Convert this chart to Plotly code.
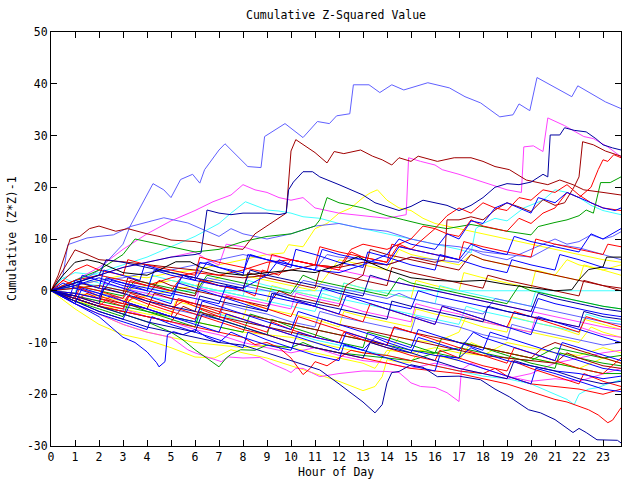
import plotly.graph_objects as go

# ---- colours (gnuplot-like palette) ----
RED = "#ff0000"; DARKRED = "#a00000"; GREEN = "#00a000"; BLUE = "#0000ff"
NAVY = "#0000a0"; LBLUE = "#6060ff"; MAGENTA = "#ff40ff"; CYAN = "#40ffff"
YELLOW = "#ffff00"; BLACK = "#000000"

x_ticks = list(range(0, 24))
y_ticks = [-30, -20, -10, 0, 10, 20, 30, 40, 50]

# ---- series: (hour, cumulative value) ----
lblue_1 = [(0,0),(1,1),(2,4),(3,9),(3.3,12.5),(4.25,20.7),(4.7,19.5),(5.0,18),(5.4,21.5),(5.9,22.5),(6.2,20.8),(6.4,23.4),(7,27.2),(7.25,28.4),(8.2,24),(8.75,23.8),(8.9,29.8),(9.75,32.3),(10.5,29.6),(11.1,32.7),(11.6,32.3),(11.9,33.8),(12.45,34.2),(12.6,39.8),(13.25,39.8),(13.7,38.3),(14.2,39.8),(14.7,38.8),(15.7,40.2),(16.6,39.2),(17.25,37.5),(17.9,36.3),(18.7,33.6),(19.25,34),(19.5,36.1),(19.95,34.8),(20.25,41.2),(21.7,37.5),(21.95,39.6),(23.1,36.5),(23.75,35.2)]
lblue_2 = [(0,0),(0.5,3),(0.7,8.9),(1.5,10.2),(2,10.5),(2.6,10.8),(3.3,12.4),(4,13.3),(4.7,14.1),(5.1,13.7),(5.7,13.1),(6.5,11.5),(7,10.5),(7.5,12),(8,11),(9,10),(10,11),(11,12.5),(12,13),(13,12),(14,11.5),(15,10),(16,9),(17,8.5),(18,7.5),(19,7),(20,6.5),(21,9),(22,8.3),(23,7),(23.75,6)]
lblue_3 = [(0,0),(1,0.5),(2,-0.5),(3,-1.5),(3.5,1.5),(4,1),(5,0),(6,-1),(6.5,2.5),(7,2),(8,1),(9,0),(10,-1),(10.5,2),(11,1.5),(12,0.5),(13,-0.5),(14,-1.5),(14.5,-0.5),(15,-1.5),(16,-2.5),(17,-3.5),(18,-4.5),(18.5,-1.5),(19,-2),(20,-3),(21,-4),(22,-5),(23,-6),(23.75,-6.5)]
lblue_4 = [(0,0),(1,1),(2,2),(3,2.5),(4,3.5),(5,4),(6,5),(7,6),(8,7),(9,6),(10,5),(11,4),(11.5,7),(12,6.5),(13,6),(14,5),(15,6.5),(16,6),(17,5.5),(17.5,8),(18,7),(19,6),(20,8),(21,10),(21.5,9),(22,9.5),(22.5,10.8),(23,10),(23.4,10.5),(23.75,11.4)]
lblue_5 = [(0,0),(1,-1.5),(2,-3),(3,-4),(3.2,-1),(4,-2),(5,-3.5),(6,-4.5),(7,-5.5),(7.2,-2.5),(8,-3.5),(9,-4.5),(10,-6),(11,-7),(11.2,-4),(12,-5),(13,-6),(14,-7),(15,-8),(15.2,-5),(16,-6),(17,-7),(18,-8.5),(19,-9.5),(19.2,-6.5),(20,-7.5),(21,-8.5),(22,-9.5),(23,-10.5),(23.75,-10)]

darkred_1 = [(0,0),(0.3,3),(0.8,10),(1.2,10.5),(1.6,12),(2,12.5),(2.7,11.5),(3.2,12),(4,11),(4.5,10.5),(5,9.8),(6,9.5),(7,8.5),(8,8),(8.5,11),(9,12.5),(9.5,14),(9.8,15),(10,27),(10.2,29.2),(11,26.7),(11.5,24.7),(11.8,26.9),(12.2,26.5),(12.9,27.2),(13.4,26),(13.8,25.3),(14.2,24.3),(14.5,25.7),(15,25),(15.3,26),(15.7,25.5),(16.1,25),(16.8,25.7),(17.5,25.7),(18,25),(18.5,24),(19.1,23.4),(19.8,21.4),(20.7,20.5),(21.2,21.4),(21.75,20.5),(22.2,19.5),(23,19),(23.75,18.5)]
darkred_2 = [(0,0),(0.5,4),(1,7.9),(1.5,7),(2,6),(3,5.6),(4,5),(5,4.5),(6,4),(7,3),(8,2.5),(9,3),(10,4),(11,5),(12,4.5),(13,5.5),(14,5),(15,6.5),(16,5.5),(16.4,6),(16.5,13.7),(17,13.7),(17.5,14.3),(18,13.7),(18.5,15.6),(19,17),(19.5,16.2),(20,15.3),(20.5,17.6),(21,16.5),(21.4,17),(21.8,20.1),(22,22),(22.15,28.8),(22.6,28.2),(23.1,27),(23.75,26)]
darkred_3 = [(0,0),(1,-1.5),(2,-3),(3,-4),(4,-5),(5,-6),(5.5,-3),(6,-4),(7,-5),(8,-6),(9,-7),(10,-8),(11,-9),(11.3,-5.5),(12,-6.5),(13,-7.5),(14,-8.5),(15,-9.5),(16,-10.5),(17,-11.5),(18,-12.5),(19,-13),(20,-13.5),(21,-14),(21.5,-12),(22,-13),(23,-14.5),(23.75,-15)]
darkred_4 = [(0,0),(1,0.5),(2,1),(3,0),(4,-1),(4.5,2),(5,1),(6,0),(7,-1),(8,-2),(9,-3),(9.5,0),(10,-1),(11,-2),(12,-3),(12.3,1),(13,3),(13.3,8),(14,7),(15,6),(16,5),(17,4),(17.5,7),(18,6),(19,5),(20,4),(21,3),(22,2),(23,1),(23.75,0)]
darkred_5 = [(0,0),(1,-0.5),(2,-1.5),(3,-2.5),(4,-3.5),(4.3,-0.5),(5,-1.5),(6,-2.5),(7,-3.5),(8,-4.5),(9,-5.5),(10,-6.5),(11,-7.5),(12,-8.5),(13,-9.5),(14,-10.5),(14.3,-7),(15,-8),(16,-9),(17,-10),(18,-11),(19,-12),(20,-13),(20.5,-11),(21,-10),(22,-11.5),(23,-13),(23.75,-14)]
darkred_6 = [(0,0),(1,-1),(1.2,1.5),(2,0.5),(3,-0.5),(3.2,2.5),(4,1.5),(5,0),(6,-1),(6.2,2),(7,1),(8,0),(8.2,3.5),(9,2.5),(10,1.5),(11,0.5),(11.2,4),(12,3),(13,2),(14,1),(14.2,4.5),(15,3.5),(16,2.5),(17,1.5),(18,0.5),(18.2,3),(19,2),(20,1),(21,0),(22,-1),(22.2,2),(23,1),(23.75,0.5)]

magenta_1 = [(0,0),(1,2),(2,4.5),(3,8),(4,11),(5,13.5),(6,15.5),(6.75,17.2),(7.5,18.5),(8,20.5),(8.5,19.5),(9,19),(9.5,18),(10,17.5),(10.5,18),(11,16),(12,15),(13,14.5),(14,14),(14.8,14.7),(14.9,25.7),(15.4,25),(16,24.3),(16.3,23.4),(17,22.5),(18,21),(19,19.5),(19.6,19),(19.7,27.8),(20.1,28),(20.5,26.9),(20.7,33.4),(21.4,31.9),(22.2,29.8),(22.6,29.4),(23.2,27.8),(23.75,25.9)]
magenta_2 = [(0,0),(1,-2.5),(2,-4.5),(3,-6.5),(4,-8),(5,-9),(5.7,-11.4),(6,-12),(6.5,-12.8),(7.1,-13.7),(7.4,-12.8),(8,-13),(8.7,-12.9),(9.3,-14.3),(9.8,-15.3),(10,-15.8),(10.2,-15),(10.5,-15),(11.2,-16.6),(12,-16),(13,-15.5),(14,-15.6),(14.5,-15.8),(15,-17.8),(15.4,-18.5),(16,-18.7),(16.5,-19.7),(17,-21.4),(17.1,-15.3),(17.5,-14),(18,-15),(19,-16.5),(20,-17.5),(21,-17),(22,-17.5),(23,-16),(23.75,-15)]
magenta_3 = [(0,0),(1,1.5),(2,3),(3,4.5),(4,5.5),(5,6.5),(6,7.5),(6.5,6),(7,5),(7.3,9),(8,8.5),(9,7),(10,6),(11,5),(12,4),(13,3),(14,2),(15,1),(16,0),(17,-1),(18,-2),(19,-3),(20,-4),(21,-5),(22,-6),(23,-7),(23.75,-7.5)]
magenta_4 = [(0,0),(1,-1),(2,-2.5),(3,-3.5),(4,-5),(5,-6),(6,-7.5),(7,-8.5),(8,-10),(9,-11),(10,-12),(11,-11),(12,-12.5),(13,-13.5),(14,-14),(15,-15),(16,-14),(17,-15),(18,-16),(19,-17),(20,-16),(21,-14),(22,-13),(23,-12),(23.75,-11.5)]
magenta_5 = [(0,0),(1,-1),(2,-2),(2.2,1.5),(3,0.5),(4,-0.5),(5,-1.5),(6,-2.5),(6.2,0.5),(7,-0.5),(8,-1.5),(9,-2.5),(10,-3.5),(10.2,-0.5),(11,-1.5),(12,-2.5),(13,-4),(14,-5),(15,-6),(15.2,-2.5),(16,-3.5),(17,-4.5),(18,-6),(19,-7),(20,-8),(20.2,-5),(21,-6),(22,-7),(23,-8.5),(23.75,-9)]

navy_1 = [(0,0),(1,1.5),(2,3),(3,4.5),(4,5.5),(5,6.5),(6,7),(6.25,7.3),(6.5,15.6),(7,15),(7.5,14.7),(8,15),(9,15),(9.5,14.7),(9.8,15),(9.9,19.5),(10.1,21),(10.5,23),(10.9,23),(11.2,22),(12,20.5),(12.5,19.5),(13,18.5),(13.5,17),(14,16.3),(14.5,15.5),(15,16.3),(15.5,17.5),(16,17),(16.5,16.5),(17,15.5),(17.5,16.5),(18,18),(18.5,20),(19,20.7),(19.5,20.5),(20,21),(20.5,22.5),(20.7,22),(20.8,30.1),(21.2,30.1),(21.4,31.5),(21.8,31),(22.3,30.7),(22.7,29.4),(23,28.2),(23.4,27.6),(23.75,27.2)]
navy_2 = [(0,0),(1,-2),(2,-4),(3,-5.5),(4,-7),(5,-8),(6,-9),(7,-10),(8,-10.5),(9,-12),(10,-13.5),(11.2,-15.3),(12,-18),(13,-21.5),(13.5,-23.6),(13.8,-22),(14,-17.8),(14.2,-15.8),(14.5,-15.6),(15,-14.3),(15.5,-14.8),(16.1,-16.6),(17,-16.5),(17.9,-17.2),(18.5,-19),(19.1,-20.5),(19.9,-23),(20.4,-23.6),(21,-24.9),(21.5,-26.5),(21.75,-27.4),(22,-26.6),(22.3,-27.4),(22.75,-28.8),(23.1,-28.8),(23.6,-28.9),(23.75,-29.4)]
navy_3 = [(0,0),(1,1.5),(2,3),(2.3,6),(3,5.5),(4,4.5),(5,3.5),(6,2.5),(7,1.5),(8,0.5),(8.3,4),(9,3),(10,2),(11,1),(12,0),(13,-1),(13.3,3),(14,2),(15,1),(16,0),(17,-1),(18,-2),(19,-3),(20,-4),(20.3,-0.5),(21,-1.5),(22,-2.5),(23,-3.5),(23.75,-4)]
navy_4 = [(0,0),(1,-1.5),(2,-3),(3,-4.5),(4,-6),(5,-7),(6,-8),(6.3,-4.5),(7,-5.5),(8,-7),(9,-8.5),(10,-10),(11,-11),(12,-12),(13,-13),(13.3,-10),(14,-11),(15,-12),(16,-13.5),(17,-15),(18,-16),(19,-17),(19.3,-13.5),(20,-14.5),(21,-15.5),(22,-17),(23,-18),(23.75,-17.5)]
navy_5 = [(0,0),(1,-1),(2,-2.5),(2.2,0.5),(3,-0.5),(4,-2),(5,-3),(6,-4),(6.2,-1),(7,-2),(8,-3),(9,-4),(9.2,-0.5),(10,-1.5),(11,-2.5),(12,-3.5),(13,-4.5),(14,-5.5),(14.2,-2),(15,-3),(16,-4),(17,-5),(18,-6),(18.2,-3),(19,-4),(20,-5),(21,-6),(22,-7),(22.2,-4),(23,-5),(23.75,-5.5)]

green_1 = [(0,0),(1,2),(2,4),(3,7),(3.5,10),(4,9.5),(5,8.5),(6,7.5),(7,8),(8,9.5),(9,10.5),(10,11),(11,12.5),(11.2,13.7),(11.5,18),(12,17),(13,16),(14,14.5),(14.7,13.7),(15.5,12.8),(16.5,12),(17.5,12.8),(18,12.4),(19,11.5),(20,10.8),(20.3,12.4),(21,13.2),(21.5,13.7),(22,14.5),(22.3,15.6),(22.6,15),(22.9,20.9),(23.3,20.9),(23.75,22)]
green_2 = [(0,0),(1,-1.5),(2,-3),(3,-4.5),(4,-6),(5,-8),(5.5,-9.5),(6,-11.4),(6.6,-13.3),(7,-14.7),(7.3,-13),(7.5,-12.3),(7.9,-11.4),(8.5,-11.5),(9,-10.5),(10,-11),(10.5,-10),(11,-11),(12,-12),(13,-12.5),(14,-13),(15,-13.5),(16,-12),(17,-11),(18,-12),(19,-13),(20,-13.5),(21,-11),(22,-12),(23,-13),(23.75,-12.5)]
green_3 = [(0,0),(1,1),(2,0),(3,-1),(3.5,2),(4,1.5),(5,0.5),(6,-0.5),(6.5,3),(7,2.5),(8,1.5),(9,0.5),(10,-0.5),(10.5,3),(11,2),(12,1),(13,0),(14,-1),(14.5,2.5),(15,1.5),(16,0.5),(17,-0.5),(18,-1.5),(19,-2.5),(19.5,1),(20,0),(21,-1),(22,-2),(23,-3),(23.75,-3.5)]
green_4 = [(0,0),(1,-1),(2,-2),(3,-3),(4,-4),(5,-5),(6,-6),(7,-7),(8,-8),(8.3,-4.5),(9,-5.5),(10,-6.5),(11,-7.5),(12,-8.5),(13,-9.5),(14,-10.5),(15,-11.5),(16,-12),(16.3,-9),(17,-10),(18,-11),(19,-12),(20,-13),(21,-14),(22,-15),(23,-16),(23.75,-16)]
green_5 = [(0,0),(1,-2),(2,-3.5),(3,-5),(3.2,-2.5),(4,-4),(5,-5.5),(6,-7),(6.2,-4),(7,-5.5),(8,-7),(9,-8.5),(9.2,-5.5),(10,-7),(11,-8.5),(12,-10),(13,-11),(13.2,-8),(14,-9),(15,-10.5),(16,-12),(17,-13),(17.2,-10),(18,-11),(19,-12.5),(20,-14),(21,-15),(21.2,-12),(22,-13),(23,-14),(23.75,-14.5)]

cyan_1 = [(0,0),(1,2),(2,3.5),(3,5),(4,6.5),(5,8.5),(6,10.5),(7,13),(7.5,15),(8.1,17.2),(9,15.6),(9.5,15.4),(10,15),(10.5,14.3),(11.2,14),(12,13),(13,12),(14,11),(15,10),(16,9),(17,8),(17.5,7.3),(17.7,12),(18,13),(18.5,14),(19,13.5),(19.7,16),(20.5,17.5),(21,19.5),(21.5,19),(22,18),(22.5,16.5),(23,15.5),(23.75,14.7)]
cyan_2 = [(0,0),(0.5,2.5),(1,1.5),(2,1),(3,0),(4,-1),(5,-2),(5.3,2),(6,1),(7,0),(8,-1),(9,-2),(10,-3),(11,-4),(11.3,-0.5),(12,-1.5),(13,-2.5),(14,-3.5),(15,-4.5),(16,-5.5),(17,-6.5),(17.3,-3),(18,-4),(19,-5),(20,-6),(21,-7),(22,-8),(22.3,-4.5),(23,-5.5),(23.75,-6)]
cyan_3 = [(0,0),(0.3,2),(1,3.5),(2,3),(3,2),(4,1),(4.5,0),(23.75,0)]
cyan_4 = [(0,0),(1,-1.5),(2,-3),(3,-4),(4,-5),(5,-6),(6,-7),(6.3,-3.5),(7,-4.5),(8,-6),(9,-7),(10,-8),(11,-9.5),(12,-10.5),(13,-11.5),(14,-12.5),(15,-13.5),(16,-14.5),(17,-15.5),(18,-16.5),(19,-17),(20,-18),(20.5,-19),(21,-20),(21.5,-21),(21.8,-22),(22,-20),(22.4,-19),(22.8,-18.7),(23.2,-18),(23.75,-17.2)]
cyan_5 = [(0,0),(1,-0.5),(1.2,2.5),(2,1.5),(3,0.5),(4,-0.5),(4.2,3),(5,2),(6,1),(7,0),(8,-1),(8.2,2),(9,1),(10,0),(11,-1),(12,-2),(12.2,1.5),(13,0.5),(14,-0.5),(15,-1.5),(16,-2.5),(16.2,1),(17,0),(18,-1),(19,-2),(20,-3),(20.2,0),(21,-1),(22,-2),(23,-3),(23.75,-3.5)]

black_1 = [(0,0),(0.5,3),(1,5.5),(1.5,6),(2,5.5),(2.5,4.5),(3,3.5),(4,3),(4.5,4),(5.2,5.6),(5.8,5.6),(6.2,4.6),(7,3.5),(8,3),(9,3.5),(10,4),(11,3.5),(12,5),(12.8,6.6),(13.2,5.6),(14,4),(15,2.5),(16,2),(17,1.8),(18,2),(19,1.2),(20,0.6),(21,0),(21.7,0.2),(22,2.1),(22.4,4.1),(23,4.6),(23.15,6.5),(23.75,6.5)]

yellow_1 = [(0,0),(1,-3.5),(2,-6.5),(3,-8.5),(4,-9.5),(5,-11),(6,-12.8),(6.8,-13),(7.5,-11.4),(8,-12),(9,-13),(10,-14.5),(11.2,-16.2),(12,-17.5),(13,-19.3),(13.5,-18.5),(13.8,-16.6),(14,-13.3),(14.5,-13.8),(15,-13.8),(15.4,-11.4),(16,-12.5),(17,-13.5),(17.5,-10),(18,-11),(19,-12),(20,-13),(21,-14),(22,-15),(23,-13),(23.75,-14)]
yellow_2 = [(0,0),(1,-2.5),(2,-4.5),(3,-6.5),(4,-8),(5,-9),(6,-10),(7,-10.5),(8,-11),(9,-10.5),(10,-11),(11,-12),(12,-13),(13,-14),(13.5,-15),(14,-11.5),(15,-12),(16,-11),(17,-12),(18,-12.5),(19,-10),(20,-11),(21,-12),(22,-12.5),(23,-11),(23.75,-12)]
yellow_3 = [(0,0),(1,1),(2,2),(3,3),(4,2.5),(5,3.5),(6,4),(7,5),(8,6),(9,7),(9.7,7.3),(9.9,8.9),(10.5,8.5),(11,12),(11.5,13),(12,15),(12.5,16),(13,18),(13.3,18.9),(13.6,19.5),(14,17.5),(14.5,16),(15,15.5),(15.5,14),(16,13),(17,12),(18,11),(19,10),(20,9),(21,8),(22,7),(23,6),(23.75,5.5)]
yellow_4 = [(0,0),(0.5,-1),(1,-2),(2,-3),(3,-3.5),(4,-4.5),(5,-5),(6,-6),(7,-7),(8,-8),(9,-8.5),(10,-9),(11,-10),(12,-11),(13,-12),(14,-12.5),(14.5,-9),(15,-9.5),(16,-10),(17,-8),(17.3,-5),(18,-6),(19,-7),(20,-8),(21,-9),(22,-10),(22.5,-7),(23,-8),(23.75,-9)]
yellow_5 = [(0,0),(1,-0.5),(2,-1),(3,-2),(4,-1),(5,0),(6,1),(7,2.5),(7.5,4),(8,3),(9,2),(10,1),(11,0),(11.5,3),(12,6),(12.5,5.5),(13,5),(14,4),(14.5,8),(15,7),(16,6),(17,5),(17.5,7),(18,6),(19,5),(20,4),(21,3),(21.5,6),(22,5),(23,4),(23.75,3)]
yellow_6 = [(0,0),(1,-1.5),(2,-3),(2.2,-0.5),(3,-1.5),(4,-3),(5,-4.5),(5.2,-2),(6,-3),(7,-4.5),(8,-5.5),(8.2,-2.5),(9,-3.5),(10,-4.5),(11,-5.5),(12,-7),(12.2,-4),(13,-5),(14,-6),(15,-7),(15.2,-3.5),(16,-4.5),(17,-5.5),(18,-7),(19,-8),(19.2,-5),(20,-6),(21,-7),(22,-8.5),(22.2,-5.5),(23,-6.5),(23.75,-7.5)]
yellow_7 = [(0,0),(1,0.5),(2,1),(3,0),(4,1),(5,2),(6,1),(7,0),(8,-1),(9,-2),(9.2,1),(10,0),(11,-1),(12,-2),(12.2,1.5),(13,0.5),(14,-0.5),(15,-1.5),(15.2,2),(16,1),(17,0),(17.2,3.5),(18,2.5),(19,1.5),(20,0.5),(20.2,4),(21,3),(22,2),(22.2,5),(23,4),(23.75,5)]

blue_1 = [(0,0),(1,-2.5),(2,-5),(2.5,-7),(3,-9),(3.5,-10),(4,-11.8),(4.4,-13.9),(4.5,-14.7),(4.75,-13.7),(4.85,-8.5),(5.1,-7.9),(5.5,-8.5),(6,-7.5),(6.5,-9),(7,-10),(7.5,-8),(8,-9),(9,-10.5),(10,-11.5),(10.3,-8),(11,-9),(12,-10),(13,-11.5),(13.5,-9),(14,-10),(15,-11.5),(16,-12.5),(17,-13),(17.5,-11),(18,-12),(19,-13.5),(20,-14.5),(21,-15.5),(22,-16),(23,-17),(23.75,-16.5)]
blue_2 = [(0,0),(0.5,1.5),(1,0.5),(2,-1),(2.5,2),(3,1.5),(4,0),(4.3,4),(5,3),(6,2),(6.5,5.5),(7,4.5),(8,3.5),(8.3,7),(9,6),(10,5),(11,4),(11.3,8),(12,7),(13,6),(14,5),(14.5,8.5),(15,8),(16,7),(17,6),(17.5,9),(18,8),(19,7),(19.3,10.5),(20,9.5),(21,8.5),(22,7.5),(22.5,11),(23,10),(23.75,12)]
blue_3 = [(0,0),(1,-1),(1.3,3),(2,2),(3,0.5),(4,-1),(5,-2.5),(5.3,1.5),(6,0.5),(7,-1),(8,-2.5),(9,-4),(9.3,-0.5),(10,-1.5),(11,-3),(12,-4.5),(12.3,-1),(13,-2),(14,-3.5),(15,-5),(16,-6.5),(16.3,-3),(17,-4),(18,-5.5),(19,-7),(20,-8.5),(20.3,-5),(21,-6),(22,-7.5),(23,-9),(23.75,-10)]
blue_4 = [(0,0),(1,-2),(2,-4),(3,-5.5),(3.3,-2.5),(4,-3.5),(5,-5),(6,-6.5),(7,-8),(7.3,-4.5),(8,-5.5),(9,-7),(10,-8.5),(11,-10),(12,-11.5),(12.3,-8),(13,-9),(14,-10.5),(15,-12),(15.3,-9),(16,-10),(17,-11.5),(17.6,-8),(18,-9),(19,-10.5),(20,-12),(21,-13.5),(21.3,-10),(22,-11),(23,-12.5),(23.75,-13.5)]
blue_5 = [(0,0),(1,1),(2,2.5),(3,1),(4,0),(5,-1),(5.5,3),(6,2),(7,1),(8,0.5),(9,3),(9.5,6),(10,5),(11,4),(12,3.5),(13,5),(14,7),(14.5,10),(15,9),(16,8),(16.5,11),(17,10),(17.5,13.5),(18,13),(18.5,16),(19,17),(19.5,16),(20,15),(20.3,18),(21,17),(21.5,19),(22,18),(22.5,17),(23,16),(23.5,15.5),(23.75,16)]
blue_6 = [(0,0),(0.5,-1),(1,-2.5),(1.3,0.5),(2,-0.5),(3,-2),(4,-3.5),(5,-5),(6,-6),(6.3,-2),(7,-3),(8,-4.5),(9,-6),(10,-7.5),(10.3,-4),(11,-5),(12,-6.5),(13,-8),(14,-9.5),(15,-11),(15.3,-7.5),(16,-8.5),(17,-10),(18,-11.5),(18.3,-8),(19,-9),(20,-10.5),(21,-12),(22,-13.5),(23,-15),(23.75,-15.5)]
blue_7 = [(0,0),(1,-0.5),(2,-1.5),(2.3,2.5),(3,1.5),(4,0.5),(5,-0.5),(6,-1.5),(7,-2.5),(7.3,1),(8,0),(9,-1),(10,-2),(11,-3),(11.3,0.5),(12,-0.5),(13,-1.5),(14,-2.5),(15,-3.5),(15.3,0),(16,-1),(17,-2),(18,-3),(19,-4),(20,-5),(20.3,-1.5),(21,-2.5),(22,-3.5),(23,-4.5),(23.75,-5)]
blue_8 = [(0,0),(0.8,-1),(1,2),(2,0.5),(2.2,4),(3,3),(3.7,2),(3.9,5),(5,3.5),(6,2.5),(6.2,5.5),(7,4.5),(8,3),(8.2,7),(9,6),(10,4.5),(10.2,8),(11,7),(12,5.5),(13,4.5),(13.2,7.5),(14,6.5),(15,5),(16,4),(16.2,7),(17,6),(18,4.5),(19,3.5),(19.2,6),(20,5),(21,4),(21.2,7),(22,6),(23,4.5),(23.75,4)]
blue_9 = [(0,0),(1,-2.5),(2,-4.5),(3,-6),(4,-7.5),(4.2,-5),(5,-6.5),(6,-8),(7,-9.5),(8,-11),(8.2,-8),(9,-9.5),(10,-11),(11,-12.5),(12,-13.5),(12.2,-10.5),(13,-11.5),(14,-13),(15,-14.5),(16,-15.5),(16.2,-12.5),(17,-13.5),(18,-15),(19,-16.5),(20,-18),(20.2,-15),(21,-16),(22,-17.5),(23,-19),(23.75,-19.5)]

red_1 = [(0,0),(1,-1),(2,-2.5),(3,-3.5),(3.3,-0.5),(4,-1.5),(5,-3),(6,-4.5),(7,-6),(8,-7.5),(9,-8.5),(10,-10),(11,-11),(12,-12),(13,-13),(14,-14),(15,-15),(16,-15.5),(17,-16),(18,-17),(19,-18),(20,-19.5),(20.4,-20.1),(21,-21),(21.5,-21.5),(22,-22.4),(22.4,-23),(22.8,-24),(23.2,-25.5),(23.4,-25),(23.75,-22.6)]
red_2 = [(0,0),(1,-1.5),(2,-3),(3,-4),(4,-5),(5,-6),(6,-7),(7,-8),(8,-9),(8.5,-10.4),(9,-10),(9.5,-11),(10,-13),(10.5,-16.2),(10.8,-15),(11,-13.7),(11.5,-14.5),(12,-13),(12.5,-11.5),(13,-12),(14,-12.5),(15,-13.5),(16,-14.5),(17,-15.5),(18,-16),(18.5,-15),(19,-16.5),(20,-18),(21,-18.5),(22,-19),(23,-20),(23.75,-19)]
red_3 = [(0,0),(0.5,-1),(1,-2),(1.5,-0.5),(2,-1.5),(3,-3),(3.5,-1),(4,-2),(5,-3.5),(5.5,-2),(6,-3),(7,-4.5),(7.3,-1),(8,-2),(9,-3.5),(10,-5),(10.3,-2),(11,-3),(12,-4.5),(13,-6),(13.3,-2.5),(14,-3.5),(15,-5),(16,-6.5),(16.3,-3),(17,-4),(18,-5.5),(19,-7),(19.3,-4),(20,-5),(21,-6.5),(22,-8),(22.3,-5),(23,-6),(23.75,-7)]
red_4 = [(0,0),(0.5,2),(1,1),(2,0),(3,-1.5),(3.3,2),(4,1),(5,0),(5.5,3),(6,2.5),(7,1),(8,0),(8.5,-1),(8.8,4),(9.5,3),(10,6),(11,5),(12,4),(12.5,7.5),(13,6.5),(14,5.5),(14.5,9),(15,8),(16,12),(16.5,11),(17,10.5),(17.5,13.7),(18,12.5),(19,11.5),(19.5,14),(20,13),(20.5,15),(21,16),(21.5,19),(22,18),(22.5,20),(22.8,23.4),(23,25.3),(23.2,25),(23.45,26.3),(23.75,25.7)]
red_5 = [(0,0),(1,-1.5),(2,-3),(2.5,-1),(3,-2),(4,-3.5),(5,-5),(5.3,-1.5),(6,-2.5),(7,-4),(8,-5.5),(9,-7),(10,-8.5),(10.3,-5),(11,-6),(12,-7.5),(13,-9),(14,-10.5),(14.3,-7),(15,-8),(16,-9.5),(17,-11),(18,-12.5),(19,-14),(19.3,-11),(20,-12),(21,-13.5),(22,-15),(23,-16),(23.5,-14),(23.75,-13)]
red_6 = [(0,0),(1,2),(2,3),(3,2),(4,1),(5,2.5),(6,3.5),(7,3),(8,4),(9,5.5),(10,6),(11,5),(12,4.5),(12.5,8),(13,9),(14,8),(15,10),(15.5,12.5),(16,12),(16.5,14.5),(17,16),(17.5,15),(18,17),(18.5,16),(19,15.5),(19.5,18),(20,17.5),(20.5,19.5),(21,19),(21.5,20.5),(22,18.5),(22.5,17),(23,16),(23.75,15.5)]
red_7 = [(0,0),(1,-1.5),(1.2,0.5),(2,-1),(3,-2.5),(3.2,-1),(4,-2.5),(5,-4),(6,-5.5),(6.2,-3.5),(7,-5),(8,-6.5),(9,-8),(9.2,-6),(10,-7.5),(11,-9),(12,-10),(12.2,-8),(13,-9.5),(14,-11),(15,-12.5),(16,-13.5),(16.2,-11.5),(17,-13),(18,-14.5),(19,-15.5),(19.2,-13.5),(20,-15),(21,-16.5),(22,-18),(22.2,-16),(23,-17.5),(23.75,-18.5)]
red_8 = [(0,0),(0.5,2),(1,4),(1.5,5),(2,4),(3,3),(3.2,6),(4,5),(5,4),(6,3),(6.2,6.5),(7,5.5),(8,4.5),(9,3.5),(9.2,7),(10,6),(11,5),(11.2,8.5),(12,7.5),(13,6.5),(14,5.5),(14.2,9),(15,8),(16,7),(17,6),(17.2,9.5),(18,8.5),(19,7.5),(20,6.5),(20.2,10),(21,9),(22,8),(23,7),(23.2,9),(23.75,8.5)]

SERIES = [
    (CYAN, cyan_3), (YELLOW, yellow_1), (YELLOW, yellow_2), (YELLOW, yellow_3),
    (YELLOW, yellow_4), (YELLOW, yellow_5), (YELLOW, yellow_6), (YELLOW, yellow_7),
    (CYAN, cyan_1), (CYAN, cyan_2), (CYAN, cyan_4), (CYAN, cyan_5),
    (MAGENTA, magenta_1), (MAGENTA, magenta_2), (MAGENTA, magenta_3),
    (MAGENTA, magenta_4), (MAGENTA, magenta_5),
    (LBLUE, lblue_1), (LBLUE, lblue_2), (LBLUE, lblue_3), (LBLUE, lblue_4), (LBLUE, lblue_5),
    (GREEN, green_1), (GREEN, green_2), (GREEN, green_3), (GREEN, green_4), (GREEN, green_5),
    (DARKRED, darkred_1), (DARKRED, darkred_2), (DARKRED, darkred_3),
    (DARKRED, darkred_4), (DARKRED, darkred_5), (DARKRED, darkred_6),
    (RED, red_1), (RED, red_2), (RED, red_3), (RED, red_4), (RED, red_5),
    (RED, red_6), (RED, red_7), (RED, red_8),
    (BLUE, blue_1), (BLUE, blue_2), (BLUE, blue_3), (BLUE, blue_4), (BLUE, blue_5),
    (BLUE, blue_6), (BLUE, blue_7), (BLUE, blue_8), (BLUE, blue_9),
    (NAVY, navy_1), (NAVY, navy_2), (NAVY, navy_3), (NAVY, navy_4), (NAVY, navy_5),
    (BLACK, black_1),
]

FONT = "DejaVu Sans Mono"

fig = go.Figure()
for color, pts in SERIES:
    fig.add_trace(go.Scatter(
        x=[p[0] for p in pts], y=[p[1] for p in pts], mode="lines",
        line=dict(color=color, width=1), hoverinfo="skip", showlegend=False))

axis_common = dict(showline=True, linecolor="black", linewidth=1, mirror="allticks",
                   ticks="inside", ticklen=6, tickwidth=1, tickcolor="black",
                   showgrid=False, zeroline=False,
                   tickfont=dict(family=FONT, size=11.5, color="black"))

fig.update_xaxes(range=[0, 23.75], tickmode="array", tickvals=x_ticks,
                 ticktext=[str(t) for t in x_ticks], **axis_common)
fig.update_yaxes(range=[-30, 50], tickmode="array", tickvals=y_ticks,
                 ticktext=[str(t) for t in y_ticks], **axis_common)

fig.update_layout(
    width=640, height=480,
    margin=dict(l=51, r=19, t=32, b=34, pad=0),
    paper_bgcolor="white", plot_bgcolor="white",
    font=dict(family=FONT, size=11.5, color="black"),
    showlegend=False,
    annotations=[
        dict(text="Cumulative Z-Squared Value", xref="paper", yref="paper",
             x=0.5, y=1 + 17 / 414, xanchor="center", yanchor="middle",
             showarrow=False, font=dict(family=FONT, size=11.5)),
        dict(text="Hour of Day", xref="paper", yref="paper",
             x=0.5, y=-26 / 414, xanchor="center", yanchor="middle",
             showarrow=False, font=dict(family=FONT, size=11.5)),
        dict(text="Cumulative (Z*Z)-1", xref="paper", yref="paper",
             x=-39 / 570, y=0.5, xanchor="center", yanchor="middle",
             textangle=-90, showarrow=False, font=dict(family=FONT, size=11.5)),
    ],
)

# remove the default 8px page margin so the figure sits at the window origin
fig.write_html("out.html", config={"displayModeBar": False},
               post_script="document.body.style.margin='0px';")
